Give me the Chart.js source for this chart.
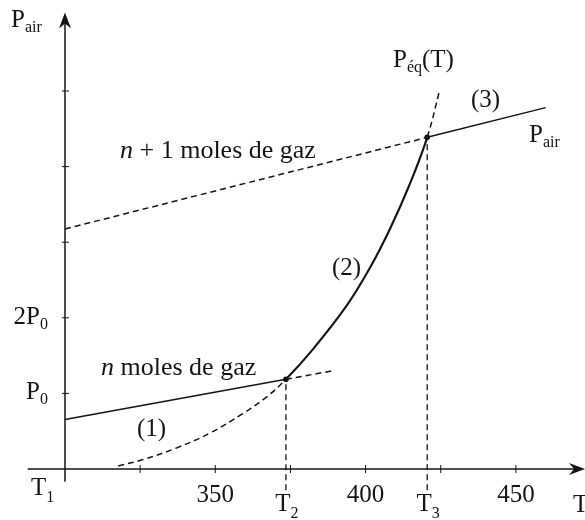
<!DOCTYPE html>
<html>
<head>
<meta charset="utf-8">
<script src="https://cdn.jsdelivr.net/npm/chart.js@4/dist/chart.umd.min.js"></script>
<style>
  html, body { margin: 0; padding: 0; background: #fff; }
  canvas { display: block; }
</style>
</head>
<body>
<canvas id="c" width="585" height="520"></canvas>
<script>
// Characteristic temperatures (K)
const T1 = 300, T2 = 373.5, T3 = 420.5;

// Air pressure with n moles of gas (units of P0)
const nMolesT = [300, 373.5, 389.2];
const nMolesP = [0.655, 1.187, 1.30];

// Air pressure with n + 1 moles of gas (units of P0)
const n1MolesT = [300, 420.5, 459.9];
const n1MolesP = [3.175, 4.387, 4.78];

// Saturated vapour pressure Péq(T) (units of P0)
const peqT = [317.7, 326, 337.2, 348.2, 359.3, 367.1, 373.5, 382.6, 393.7, 401.5, 408.1, 414.5, 420.5, 424.7];
const peqP = [0.04, 0.125, 0.28, 0.475, 0.737, 0.955, 1.187, 1.59, 2.16, 2.665, 3.175, 3.75, 4.387, 5.02];

// Intersection points (T2 and T3)
const crossT = [373.5, 420.5];
const crossP = [1.187, 4.387];

// Axis ticks and labels
const xTicks = [325, 350, 375, 400, 425, 450];
const xTickLabels = ['', '350', '', '400', '', '450'];
const yTicks = [1, 2, 3, 4, 5];
const yTickLabels = ['P|0', '2P|0', '', '', ''];

const SERIF = '"Liberation Serif", "DejaVu Serif", serif';
const INK = '#151515';
const DASH = [6, 4];

const toXY = (xs, ys) => xs.map((v, i) => ({ x: v, y: ys[i] }));

// Draws a run of text pieces; each piece: {t, sub, it}
function drawRich(ctx, parts, x, y, align, size, subSize, subDrop) {
  const fontFor = p => `${p.it ? 'italic ' : ''}${p.sub ? subSize : size}px ${SERIF}`;
  let total = 0;
  parts.forEach(p => { ctx.font = fontFor(p); total += ctx.measureText(p.t).width; });
  let cx = align === 'center' ? x - total / 2 : x;
  ctx.textAlign = 'left';
  ctx.textBaseline = 'alphabetic';
  parts.forEach(p => {
    ctx.font = fontFor(p);
    ctx.fillText(p.t, cx, p.sub ? y + subDrop : y);
    cx += ctx.measureText(p.t).width;
  });
}
// "P|0" -> main "P" with subscript "0"
const splitSub = s => {
  const [m, sb] = s.split('|');
  const out = [{ t: m }];
  if (sb) out.push({ t: sb, sub: true });
  return out;
};

function arrowHead(ctx, tx, ty, dx, dy) {
  const len = 16, half = 6, notch = 11;
  const px = -dy, py = dx;
  ctx.beginPath();
  ctx.moveTo(tx, ty);
  ctx.lineTo(tx - dx * len + px * half, ty - dy * len + py * half);
  ctx.lineTo(tx - dx * notch, ty - dy * notch);
  ctx.lineTo(tx - dx * len - px * half, ty - dy * len - py * half);
  ctx.closePath();
  ctx.fill();
}

const axesPlugin = {
  id: 'axesAndLabels',
  beforeDatasetsDraw(chart) {
    const { ctx, scales: { x, y } } = chart;
    const ox = x.getPixelForValue(T1);
    const oy = y.getPixelForValue(0);
    ctx.save();
    ctx.strokeStyle = INK;
    ctx.fillStyle = INK;
    ctx.lineWidth = 1.5;

    // horizontal axis
    const xl = x.getPixelForValue(287.6), xr = x.getPixelForValue(473);
    ctx.beginPath(); ctx.moveTo(xl, oy); ctx.lineTo(xr - 10, oy); ctx.stroke();
    arrowHead(ctx, xr, oy, 1, 0);

    // vertical axis
    const yb = y.getPixelForValue(-0.17), yt = y.getPixelForValue(6.04);
    ctx.beginPath(); ctx.moveTo(ox, yb); ctx.lineTo(ox, yt + 10); ctx.stroke();
    arrowHead(ctx, ox, yt, 0, -1);

    // ticks
    ctx.lineWidth = 1;
    xTicks.forEach(v => {
      const px = x.getPixelForValue(v);
      ctx.beginPath(); ctx.moveTo(px, oy - 4); ctx.lineTo(px, oy + 4); ctx.stroke();
    });
    yTicks.forEach(v => {
      const py = y.getPixelForValue(v);
      ctx.beginPath(); ctx.moveTo(ox - 3, py); ctx.lineTo(ox + 4, py); ctx.stroke();
    });

    // tick labels
    xTicks.forEach((v, i) => {
      if (!xTickLabels[i]) return;
      drawRich(ctx, [{ t: xTickLabels[i] }], x.getPixelForValue(v), oy + 33, 'center', 25, 16, 0);
    });
    yTicks.forEach((v, i) => {
      if (!yTickLabels[i]) return;
      const parts = splitSub(yTickLabels[i]);
      ctx.font = `25px ${SERIF}`;
      const wMain = ctx.measureText(parts[0].t).width;
      ctx.font = `16px ${SERIF}`;
      const wSub = parts[1] ? ctx.measureText(parts[1].t).width : 0;
      drawRich(ctx, parts, ox - 17 - wMain - wSub, y.getPixelForValue(v) + 6, 'left', 25, 16, 5);
    });

    // axis names and marked temperatures
    drawRich(ctx, [{ t: 'P' }, { t: 'air', sub: true }], 11, 27, 'left', 25, 16, 5);
    drawRich(ctx, [{ t: 'T' }, { t: '1', sub: true }], 31, 495, 'left', 25, 16, 7);
    drawRich(ctx, [{ t: 'T' }, { t: '2', sub: true }], x.getPixelForValue(T2) + 1, 511, 'center', 25, 16, 7);
    drawRich(ctx, [{ t: 'T' }, { t: '3', sub: true }], x.getPixelForValue(T3) + 1, 511, 'center', 25, 16, 7);
    drawRich(ctx, [{ t: 'T' }], 573, 512, 'left', 25, 16, 0);

    // curve annotations
    drawRich(ctx, [{ t: 'n', it: true }, { t: ' + 1 moles de gaz' }], 120, 158, 'left', 26, 16, 0);
    drawRich(ctx, [{ t: 'n', it: true }, { t: ' moles de gaz' }], 101, 375, 'left', 26, 16, 0);
    drawRich(ctx, [{ t: 'P' }, { t: 'éq', sub: true }, { t: '(T)' }], 393, 67, 'left', 25, 16, 5);
    drawRich(ctx, [{ t: 'P' }, { t: 'air', sub: true }], 529, 142, 'left', 25, 16, 5);
    drawRich(ctx, [{ t: '(1)' }], 137, 436, 'left', 25, 16, 0);
    drawRich(ctx, [{ t: '(2)' }], 332, 275, 'left', 25, 16, 0);
    drawRich(ctx, [{ t: '(3)' }], 471, 107, 'left', 25, 16, 0);

    ctx.restore();
  }
};

const dropBottom = -0.28;

new Chart(document.getElementById('c'), {
  type: 'scatter',
  data: {
    datasets: [
      {
        label: 'n moles',
        data: toXY(nMolesT, nMolesP),
        showLine: true, pointRadius: 0, borderColor: INK, borderWidth: 1.5,
        segment: { borderDash: c => c.p0DataIndex >= 1 ? DASH : undefined }
      },
      {
        label: 'n + 1 moles',
        data: toXY(n1MolesT, n1MolesP),
        showLine: true, pointRadius: 0, borderColor: INK, borderWidth: 1.5,
        segment: { borderDash: c => c.p0DataIndex === 0 ? DASH : undefined }
      },
      {
        label: 'Péq(T)',
        data: toXY(peqT, peqP),
        showLine: true, pointRadius: 0, borderColor: INK, borderWidth: 1.5,
        tension: 0.4,
        segment: {
          borderDash: c => (c.p1.parsed.x <= T2 || c.p0.parsed.x >= T3) ? DASH : undefined,
          borderWidth: c => (c.p1.parsed.x <= T2 || c.p0.parsed.x >= T3) ? 1.5 : 2.1
        }
      },
      {
        label: 'T2 drop',
        data: [{ x: T2, y: dropBottom }, { x: T2, y: crossP[0] }],
        showLine: true, pointRadius: 0, borderColor: INK, borderWidth: 1.3, borderDash: DASH
      },
      {
        label: 'T3 drop',
        data: [{ x: T3, y: dropBottom }, { x: T3, y: crossP[1] }],
        showLine: true, pointRadius: 0, borderColor: INK, borderWidth: 1.3, borderDash: DASH
      },
      {
        label: 'crossings',
        data: toXY(crossT, crossP),
        showLine: false, pointRadius: 2.8, pointBackgroundColor: INK, pointBorderWidth: 0
      }
    ]
  },
  options: {
    responsive: false,
    animation: false,
    events: [],
    layout: { padding: 0, autoPadding: false },
    plugins: { legend: { display: false }, tooltip: { enabled: false } },
    scales: {
      x: { type: 'linear', min: 278.38, max: 472.99, display: false },
      y: { type: 'linear', min: -0.6746, max: 6.2037, display: false }
    }
  },
  plugins: [axesPlugin]
});
</script>
</body>
</html>
